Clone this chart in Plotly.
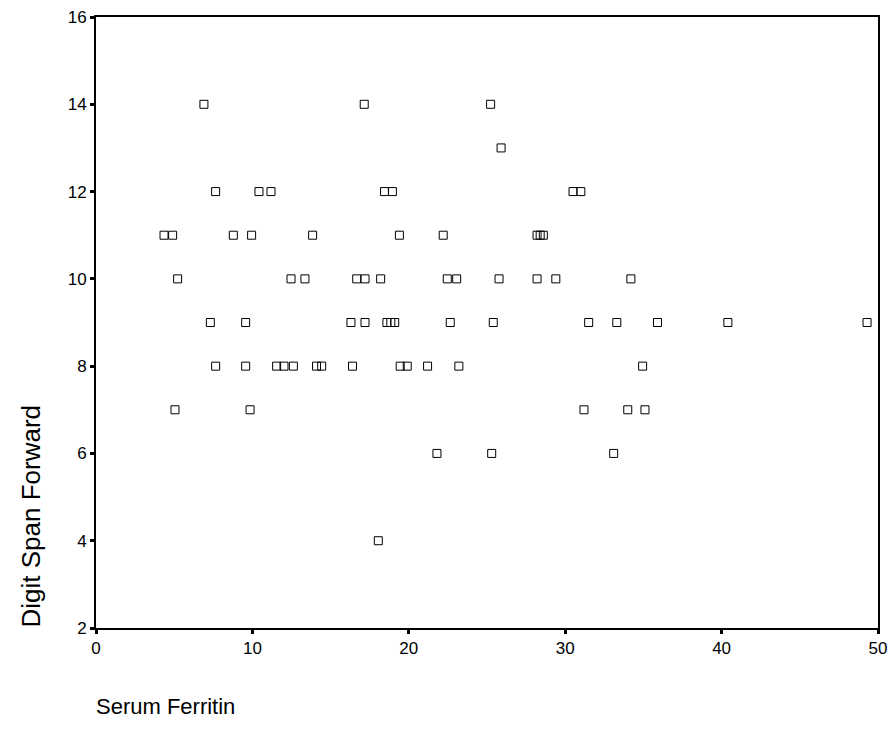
import pandas as pd
import plotly.express as px

# valores (Serum Ferritin x Digit Span Forward)
ferritina = [
    6.9, 17.15, 25.23,
    25.9,
    7.65, 10.42, 11.19, 18.45, 18.95, 30.5, 31.0,
    4.35, 4.9, 8.78, 9.95, 13.85, 19.4, 22.2, 28.2, 28.4, 28.6,
    5.22, 12.47, 13.36, 16.67, 17.2, 18.2, 22.46, 23.06, 25.77, 28.2, 29.4, 34.2,
    7.31, 9.57, 16.3, 17.2, 18.6, 18.85, 19.1, 22.65, 25.4, 31.5, 33.3, 35.9, 40.4, 49.3,
    7.65, 9.57, 11.55, 12.02, 12.62, 14.1, 14.43, 16.4, 19.45, 19.9, 21.2, 23.2, 34.95,
    5.05, 9.85, 31.2, 34.0, 35.1,
    21.8, 25.3, 33.1,
    18.05,
]
digit_span = [
    14, 14, 14,
    13,
    12, 12, 12, 12, 12, 12, 12,
    11, 11, 11, 11, 11, 11, 11, 11, 11, 11,
    10, 10, 10, 10, 10, 10, 10, 10, 10, 10, 10, 10,
    9, 9, 9, 9, 9, 9, 9, 9, 9, 9, 9, 9, 9, 9,
    8, 8, 8, 8, 8, 8, 8, 8, 8, 8, 8, 8, 8,
    7, 7, 7, 7, 7,
    6, 6, 6,
    4,
]
ticks_y = [2, 4, 6, 8, 10, 12, 14, 16]
ticks_x = [0, 10, 20, 30, 40, 50]

df = pd.DataFrame({'Serum Ferritin': ferritina, 'Digit Span Forward': digit_span})

fig = px.scatter(
    df,
    x = 'Serum Ferritin',
    y = 'Digit Span Forward',
    template = 'simple_white'
)

# quadrados vazados pequenos, como no original
fig.update_traces(marker = dict(symbol = 'square-open', size = 8, color = 'black', line = dict(width = 1)))

eixo = dict(
    showline = True, mirror = True, linecolor = 'black', linewidth = 2,
    ticks = 'outside', ticklen = 4, tickwidth = 3, tickcolor = 'black',
    showgrid = False, zeroline = False, title = None, automargin = False,
    ticklabeloverflow = 'allow',  # senão o "16" do topo some
    tickfont = dict(family = 'Liberation Sans, Arial', size = 17, color = 'black')
)

fig.update_xaxes(range = [0, 50], tickvals = ticks_x, **eixo)
fig.update_yaxes(range = [2, 16], tickvals = ticks_y, **eixo)

# a página tem 8px de margem no body, por isso a figura é um pouco menor
fig.update_layout(
    width = 880, height = 717,
    margin = dict(l = 88, r = 10, t = 9, b = 97),
    plot_bgcolor = 'white', paper_bgcolor = 'white',
    showlegend = False,
    annotations = [
        dict(text = 'Serum Ferritin', x = 0, y = 0, xref = 'paper', yref = 'paper',
             xanchor = 'left', yanchor = 'middle', xshift = -2, yshift = -78, showarrow = False,
             font = dict(family = 'Liberation Sans, Arial', size = 22, color = 'black')),
        dict(text = 'Digit Span Forward', x = 0, y = 0, xref = 'paper', yref = 'paper',
             xanchor = 'center', yanchor = 'bottom', xshift = -66, yshift = -2, textangle = -90,
             showarrow = False,
             font = dict(family = 'Liberation Sans, Arial', size = 26, color = 'black')),
    ]
)

fig.write_html("out.html")
